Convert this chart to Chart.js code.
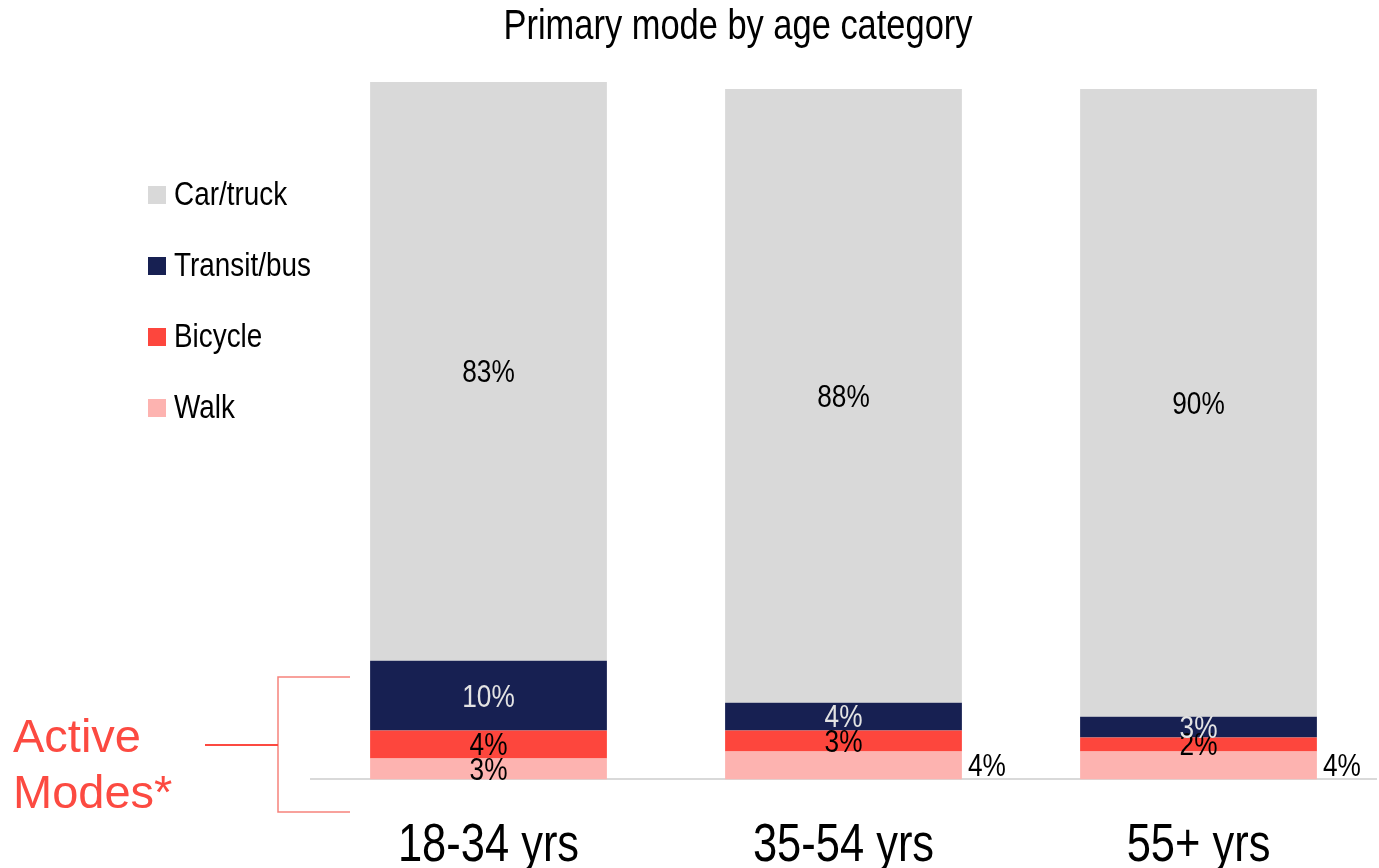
<!DOCTYPE html>
<html>
<head>
<meta charset="utf-8">
<title>Primary mode by age category</title>
<script src="https://cdn.jsdelivr.net/npm/chart.js@4.4.1/dist/chart.umd.min.js"></script>
<style>
  html, body { margin: 0; padding: 0; background: #fff; }
  #wrap { width: 1379px; height: 868px; position: relative; }
</style>
</head>
<body>
<div id="wrap"><canvas id="modeChart"></canvas></div>
<script>
const SANS = "'Liberation Sans', Arial, sans-serif";
const NARROW_X = 0.82; // horizontal squeeze to get a narrow face out of Liberation Sans

const categories = ['18-34 yrs', '35-54 yrs', '55+ yrs'];
const walk = [3, 4, 4];
const bicycle = [4, 3, 2];
const transit = [10, 4, 3];
const carTruck = [83, 88, 90];

const colors = {
    walk: '#fdb3b0',
    bicycle: '#fd463d',
    transit: '#172052',
    car: '#d9d9d9'
};

function narrowText(ctx, text, x, y, size, align) {
    ctx.save();
    ctx.font = size + 'px ' + SANS;
    ctx.textAlign = align || 'center';
    ctx.textBaseline = 'middle';
    ctx.translate(x, y);
    ctx.scale(NARROW_X, 1);
    ctx.fillText(text, 0, 0);
    ctx.restore();
}

// labels drawn inside each segment, except where flagged as outside (to the right)
const segmentLabels = {
    id: 'segmentLabels',
    afterDatasetsDraw(chart) {
        const ctx = chart.ctx;
        chart.data.datasets.forEach((ds, i) => {
            const meta = chart.getDatasetMeta(i);
            meta.data.forEach((bar, j) => {
                const text = ds.data[j] + '%';
                const cy = (bar.y + bar.base) / 2 + 2;
                if (ds.outsideLabels && ds.outsideLabels[j]) {
                    ctx.fillStyle = '#000';
                    narrowText(ctx, text, bar.x + bar.width / 2 + 6, cy, 32, 'left');
                } else {
                    ctx.fillStyle = ds.labelColor || '#000';
                    narrowText(ctx, text, bar.x, cy, 32, 'center');
                }
            });
        });
    }
};

// category labels under the axis, title, side legend and the "Active Modes" bracket
const annotations = {
    id: 'annotations',
    afterDraw(chart) {
        const ctx = chart.ctx;
        const xScale = chart.scales.x;
        ctx.save();

        ctx.fillStyle = '#000';
        xScale.ticks.forEach((t, i) => {
            narrowText(ctx, xScale.getLabelForValue(t.value), xScale.getPixelForTick(i), xScale.top + 67, 53, 'center');
        });

        narrowText(ctx, 'Primary mode by age category', 738, 27, 42, 'center');

        // legend, top series first
        const items = chart.data.datasets.slice().reverse();
        items.forEach((ds, k) => {
            const y = 195 + k * 71;
            ctx.fillStyle = ds.backgroundColor;
            ctx.fillRect(148, y - 9, 18, 18);
            ctx.fillStyle = '#000';
            narrowText(ctx, ds.label, 174, y + 1, 34, 'left');
        });

        // bracket
        ctx.strokeStyle = '#f6827c';
        ctx.lineWidth = 1.5;
        ctx.beginPath();
        ctx.moveTo(350, 677);
        ctx.lineTo(278, 677);
        ctx.lineTo(278, 812);
        ctx.lineTo(350, 812);
        ctx.stroke();
        ctx.strokeStyle = '#fc4a41';
        ctx.lineWidth = 2;
        ctx.beginPath();
        ctx.moveTo(205, 745);
        ctx.lineTo(278, 745);
        ctx.stroke();

        ctx.fillStyle = '#fc4a41';
        ctx.font = '47px ' + SANS;
        ctx.textAlign = 'left';
        ctx.textBaseline = 'alphabetic';
        ctx.fillText('Active', 13, 752);
        ctx.fillText('Modes*', 13, 808);

        ctx.restore();
    }
};

new Chart(document.getElementById('modeChart'), {
    type: 'bar',
    data: {
        labels: categories,
        datasets: [
            { label: 'Walk', data: walk, backgroundColor: colors.walk, outsideLabels: [false, true, true] },
            { label: 'Bicycle', data: bicycle, backgroundColor: colors.bicycle },
            { label: 'Transit/bus', data: transit, backgroundColor: colors.transit, labelColor: '#e3e3e3' },
            { label: 'Car/truck', data: carTruck, backgroundColor: colors.car }
        ]
    },
    options: {
        responsive: true,
        maintainAspectRatio: false,
        animation: false,
        layout: { padding: { left: 311, right: 3, top: 82, bottom: 0 } },
        datasets: { bar: { barPercentage: 0.667, categoryPercentage: 1 } },
        scales: {
            x: {
                stacked: true,
                grid: { display: false, drawTicks: false },
                border: { display: true, color: '#d9d9d9', width: 2 },
                // labels are painted narrow by the annotations plugin
                ticks: { color: 'rgba(0,0,0,0)', font: { size: 53, family: SANS }, padding: 12.5 }
            },
            y: {
                stacked: true,
                display: false,
                min: 0,
                max: 100
            }
        },
        plugins: {
            legend: { display: false },
            tooltip: { enabled: false }
        }
    },
    plugins: [segmentLabels, annotations]
});
</script>
</body>
</html>
